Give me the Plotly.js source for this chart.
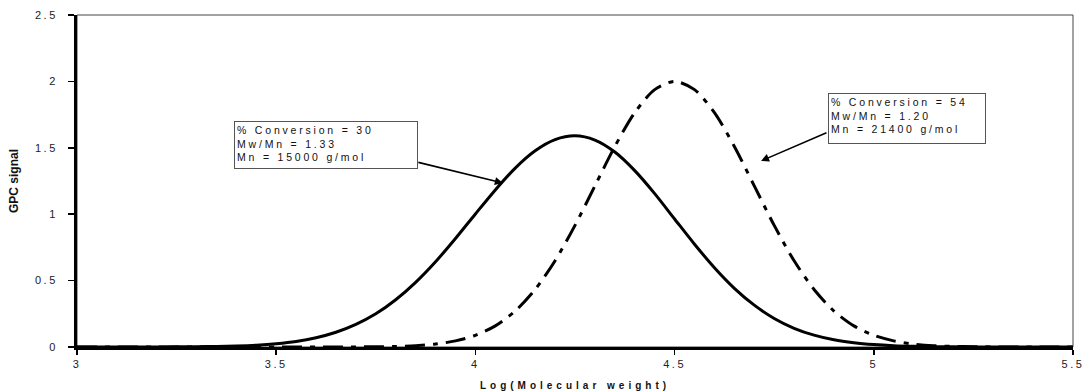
<!DOCTYPE html>
<html>
<head>
<meta charset="utf-8">
<script src="https://cdn.plot.ly/plotly-3.0.1.min.js"></script>
<style>
  html, body { margin: 0; padding: 0; background: #fff; }
  #chart { width: 1085px; height: 392px; }
  .xtick text, .ytick text, text.xtick, text.ytick { letter-spacing: 2.5px; }
  text.xtitle { letter-spacing: 4px; }
  .annotation-text { letter-spacing: 2.8px; }
</style>
</head>
<body>
<div id="chart"></div>
<script>
// Log(Molecular weight) sample points
const logMW = [3.00,3.05,3.10,3.15,3.20,3.25,3.30,3.35,3.40,3.45,
               3.50,3.55,3.60,3.65,3.70,3.75,3.80,3.85,3.90,3.95,
               4.00,4.05,4.10,4.15,4.20,4.25,4.30,4.35,4.40,4.45,
               4.50,4.55,4.60,4.65,4.70,4.75,4.80,4.85,4.90,4.95,
               5.00,5.05,5.10,5.15,5.20,5.25,5.30,5.35,5.40,5.45,5.50];

// GPC signal, 30 % conversion (solid)
const conv30 = [0,0,0.0001,0.0002,0.0005,0.001,0.002,0.004,0.0076,0.014,
                0.025,0.042,0.070,0.111,0.170,0.250,0.356,0.487,0.642,0.817,
                1.002,1.183,1.347,1.477,1.561,1.590,1.558,1.468,1.328,1.155,
                0.964,0.774,0.597,0.442,0.315,0.215,0.141,0.089,0.054,0.032,
                0.018,0.0095,0.0049,0.0024,0.0012,0.0005,0.0002,0.0001,0,0,0];

// GPC signal, 54 % conversion (dash-dot)
const conv54 = [0,0,0,0,0,0,0,0,0,0,
                0,0,0.0001,0.0002,0.0007,0.0018,0.0044,0.010,0.022,0.046,
                0.088,0.159,0.271,0.433,0.649,0.916,1.213,1.510,1.765,1.938,
                2.000,1.938,1.765,1.510,1.213,0.916,0.649,0.433,0.271,0.159,
                0.088,0.046,0.022,0.010,0.0044,0.0018,0.0007,0.0002,0.0001,0,0];

const xTicks = [3, 3.5, 4, 4.5, 5, 5.5];
const yTicks = [0, 0.5, 1, 1.5, 2, 2.5];

const label30 = ['% Conversion = 30', 'Mw/Mn = 1.33', 'Mn = 15000 g/mol'];
const label54 = ['% Conversion = 54', 'Mw/Mn = 1.20', 'Mn = 21400 g/mol'];

const FONT = 'Arial, "Liberation Sans", sans-serif';

const traces = [
  {
    x: logMW, y: conv30, type: 'scatter', mode: 'lines',
    line: { color: '#000', width: 3, shape: 'spline', smoothing: 0.8 },
    name: '30%'
  },
  {
    x: logMW, y: conv54, type: 'scatter', mode: 'lines',
    line: { color: '#000', width: 3, shape: 'spline', smoothing: 0.8, dash: '20px,8px,5px,8px' },
    name: '54%'
  }
];

const layout = {
  width: 1085, height: 392,
  margin: { l: 77, r: 12, t: 15, b: 45 },
  paper_bgcolor: '#fff', plot_bgcolor: '#fff',
  showlegend: false,
  font: { family: FONT, color: '#222', size: 11 },
  xaxis: {
    range: [3, 5.5], tickvals: xTicks, showgrid: false, zeroline: false,
    showline: true, linecolor: '#000', linewidth: 3,
    ticks: 'outside', ticklen: 5, tickwidth: 1.5, tickcolor: '#000',
    tickfont: { family: FONT, size: 11, color: '#222' },
    title: { text: 'Log(Molecular weight)', font: { family: FONT, size: 10, weight: 'bold', color: '#111' }, standoff: 13 }
  },
  yaxis: {
    range: [0, 2.5], tickvals: yTicks, showgrid: false, zeroline: false,
    showline: true, linecolor: '#000', linewidth: 3,
    ticks: 'outside', ticklen: 6, tickwidth: 1.5, tickcolor: '#000',
    ticklabelstandoff: 8,
    tickfont: { family: FONT, size: 11, color: '#222' },
    title: { text: 'GPC signal', font: { family: FONT, size: 12, weight: 'bold', color: '#111' }, standoff: 14 }
  },
  shapes: [
    { type: 'rect', xref: 'paper', yref: 'paper', x0: 0, x1: 1, y0: 0, y1: 1,
      line: { color: '#444', width: 1 }, layer: 'below' }
  ],
  annotations: [
    { x: 3.394, y: 1.702, xref: 'x', yref: 'y', xanchor: 'left', yanchor: 'top',
      text: label30.join('<br>'), showarrow: false, align: 'left', valign: 'top',
      width: 178, height: 42, borderpad: 2, bordercolor: '#555', borderwidth: 1,
      bgcolor: '#fff', font: { family: FONT, size: 10.5, color: '#111' } },
    { x: 4.885, y: 1.913, xref: 'x', yref: 'y', xanchor: 'left', yanchor: 'top',
      text: label54.join('<br>'), showarrow: false, align: 'left', valign: 'top',
      width: 152, height: 45, borderpad: 2, bordercolor: '#555', borderwidth: 1,
      bgcolor: '#fff', font: { family: FONT, size: 10.5, color: '#111' } },
    { x: 4.069, y: 1.235, ax: 3.853, ay: 1.393, xref: 'x', yref: 'y', axref: 'x', ayref: 'y',
      text: '', showarrow: true, arrowhead: 2, arrowsize: 1, arrowwidth: 1.6,
      arrowcolor: '#000', standoff: 0 },
    { x: 4.717, y: 1.401, ax: 4.885, ay: 1.619, xref: 'x', yref: 'y', axref: 'x', ayref: 'y',
      text: '', showarrow: true, arrowhead: 2, arrowsize: 1, arrowwidth: 1.6,
      arrowcolor: '#000', standoff: 0 }
  ]
};

Plotly.newPlot('chart', traces, layout, { displayModeBar: false, staticPlot: true });
</script>
</body>
</html>
